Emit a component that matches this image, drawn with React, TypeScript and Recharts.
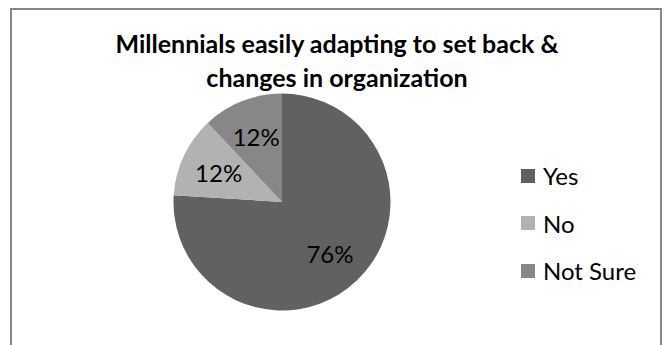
import { PieChart, Pie, Cell, Legend } from 'recharts';

const categories = ['Yes', 'No', 'Not Sure'];
const shares = [76, 12, 12];

const COLORS = ['#616161', '#b2b2b2', '#878787'];
const FONT = 'Lato, "Open Sans", sans-serif';
const RAD = Math.PI / 180;

const data = categories.map((name, i) => ({ name, value: shares[i] }));

function renderLabel(props: any) {
  const { cx, cy, midAngle, value } = props;
  const r = 70;
  const x = cx + r * Math.cos(-midAngle * RAD);
  const y = cy + r * Math.sin(-midAngle * RAD);
  return (
    <text x={x} y={y} fill="#000" textAnchor="middle" dominantBaseline="central" fontSize={24} fontFamily={FONT}>
      {`${value}%`}
    </text>
  );
}

function LegendBox() {
  return (
    <div style={{ fontFamily: FONT, fontSize: 24, color: '#000' }}>
      {categories.map((c, i) => (
        <div key={c} style={{ display: 'flex', alignItems: 'center', height: 47.5 }}>
          <span style={{ width: 14, height: 14, background: COLORS[i], marginRight: 8, display: 'inline-block' }} />
          <span>{c}</span>
        </div>
      ))}
    </div>
  );
}

export default function App() {
  return (
    <div style={{ position: 'absolute', left: 0, top: 0, width: 670, height: 345, overflow: 'hidden', background: '#fff' }}>
      <div style={{ position: 'absolute', left: 10, top: 8, width: 652, height: 400, border: '2px solid #878787', boxSizing: 'border-box' }} />
      <div
        style={{
          position: 'absolute', left: 11, top: 26, width: 652, textAlign: 'center',
          fontFamily: FONT, fontWeight: 700, fontSize: 25, lineHeight: '34px', color: '#000',
        }}
      >
        Millennials easily adapting to set back &amp;<br />changes in organization
      </div>
      <PieChart width={670} height={345} style={{ position: 'absolute', left: 0, top: 0 }}>
        <Pie
          data={data}
          dataKey="value"
          nameKey="name"
          cx={277}
          cy={197}
          outerRadius={108.5}
          startAngle={90}
          endAngle={-270}
          stroke="none"
          label={renderLabel}
          labelLine={false}
          isAnimationActive={false}
        >
          {data.map((d, i) => (
            <Cell key={d.name} fill={COLORS[i]} />
          ))}
        </Pie>
        <Legend content={<LegendBox />} wrapperStyle={{ position: 'absolute', left: 521, top: 152, width: 140 }} />
      </PieChart>
    </div>
  );
}
